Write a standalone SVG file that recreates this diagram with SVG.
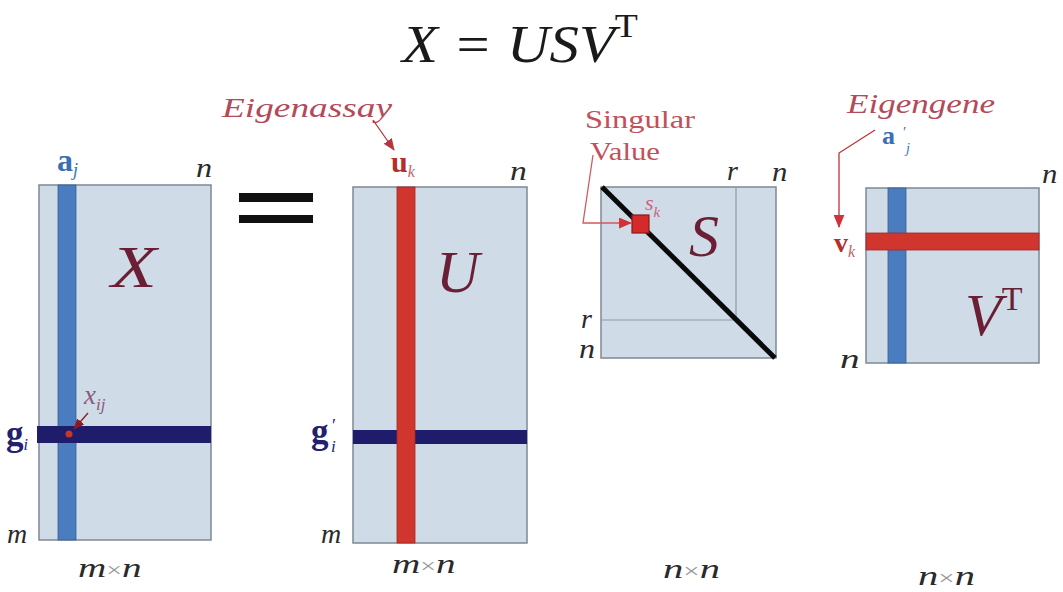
<svg xmlns="http://www.w3.org/2000/svg" width="1063" height="592" viewBox="0 0 1063 592" font-family="'Liberation Serif', 'DejaVu Serif', 'Times New Roman', serif">
<defs>
<style>
.it{font-style:italic}
.mat{fill:#cfdce8;stroke:#7d8893;stroke-width:1.5}
.big{font-size:60px;font-style:italic;fill:#6b1f35}
.dim{font-size:28px;font-style:italic;fill:#2a2a2a}
.times{font-style:normal;fill:#9a9a9a;font-size:20px}
.blue{fill:#4a7cc0;stroke:#3a5f90;stroke-width:0.8}
.red{fill:#d0362e;stroke:#a02822;stroke-width:0.8}
.navy{fill:#201c6c}
.note{font-size:28px;font-style:italic;fill:#b34a5a}
.conn{fill:none;stroke-width:1.3}
</style>
<marker id="ahA" viewBox="0 0 12 10" refX="11" refY="5" markerWidth="12" markerHeight="10" markerUnits="userSpaceOnUse" orient="auto"><path d="M0,0 L12,5 L0,10 z" fill="#b8363a"/></marker>
<marker id="ahS" viewBox="0 0 12 10" refX="11" refY="5" markerWidth="13" markerHeight="11" markerUnits="userSpaceOnUse" orient="auto"><path d="M0,0 L12,5 L0,10 z" fill="#d2303a"/></marker>
<marker id="ahX" viewBox="0 0 12 10" refX="11" refY="5" markerWidth="11" markerHeight="10" markerUnits="userSpaceOnUse" orient="auto"><path d="M0,0 L12,5 L0,10 z" fill="#8b1a22"/></marker>
</defs>
<rect width="1063" height="592" fill="#ffffff"/>

<g id="title">
<text transform="translate(402,62) scale(1.11,1)" font-size="53" class="it" fill="#1a1a1a">X = USV<tspan font-style="normal" font-size="34" dy="-25">T</tspan></text>
</g>

<g id="matrix-X">
<rect class="mat" x="39" y="185" width="172" height="355"/>
<rect class="blue" x="58" y="185" width="18" height="355"/>
<rect class="navy" x="37" y="426" width="174" height="17"/>
<circle cx="69" cy="434" r="3.5" fill="#c0392b"/>
<text class="big" transform="translate(111,287) scale(1.25,1)">X</text>
<text transform="translate(57,171)" font-size="32" font-weight="bold" fill="#3a6fb5">a<tspan class="it" font-weight="normal" font-size="18" dy="5">j</tspan></text>
<text class="dim" transform="translate(196,177) scale(1.15,1)">n</text>
<text transform="translate(84,404)" font-size="27" class="it" fill="#8b5a7a">x<tspan font-size="17" dy="6">ij</tspan></text>
<text transform="translate(6,445)" font-size="35" font-weight="bold" fill="#232070">g<tspan class="it" font-weight="normal" font-size="16" dy="5">i</tspan></text>
<text class="dim" transform="translate(7,543)" font-size="30">m</text>
<text class="dim" transform="translate(78,577) scale(1.4,1)">m<tspan class="times">×</tspan>n</text>
</g>

<g id="equals">
<rect x="239" y="193" width="74" height="9" fill="#111"/>
<rect x="239" y="215" width="74" height="8" fill="#111"/>
</g>

<g id="matrix-U">
<rect class="mat" x="353" y="187" width="174" height="356"/>
<rect class="navy" x="353" y="430" width="174" height="14"/>
<rect class="red" x="397" y="187" width="18" height="356"/>
<text class="big" transform="translate(436,292)" font-size="62">U</text>
<text transform="translate(391,172)" font-size="30" font-weight="bold" fill="#b52e2a">u<tspan class="it" font-weight="normal" font-size="16" dy="5" fill="#c0606a">k</tspan></text>
<text class="dim" transform="translate(510,180) scale(1.2,1)">n</text>
<text x="311" y="443" font-size="35" font-weight="bold" fill="#232070">g</text>
<text x="332" y="432" font-size="18" fill="#232070">′</text>
<text x="331" y="452" class="it" font-size="17" fill="#232070">i</text>
<text class="dim" transform="translate(321,543)" font-size="30">m</text>
<text class="dim" transform="translate(392,573) scale(1.4,1)">m<tspan class="times">×</tspan>n</text>
<text class="note" x="222" y="117" textLength="170" lengthAdjust="spacingAndGlyphs">Eigenassay</text>
</g>

<g id="matrix-S">
<rect class="mat" x="601" y="187" width="175" height="171"/>
<path d="M736,187 V320 H601" fill="none" stroke="#8d98a4" stroke-width="1.2"/>
<line x1="602" y1="187" x2="775" y2="358" stroke="#0a0a0a" stroke-width="5"/>
<rect x="632" y="215" width="17" height="18" fill="#d42a2a" stroke="#8a1a1a" stroke-width="1.2"/>
<text class="big" transform="translate(689,256)" font-size="62">S</text>
<text transform="translate(645,210)" font-size="22" class="it" fill="#d0607a">s<tspan font-size="15" dy="7">k</tspan></text>
<text class="dim" transform="translate(727,180)" font-size="24">r</text>
<text class="dim" transform="translate(772,181) scale(1.1,1)">n</text>
<text class="dim" transform="translate(581,328)" font-size="24">r</text>
<text class="dim" transform="translate(579,358) scale(1.15,1)">n</text>
<text class="dim" transform="translate(663,578) scale(1.45,1)">n<tspan class="times">×</tspan>n</text>
<text x="585" y="128" font-size="26" fill="#c2505a" textLength="110" lengthAdjust="spacingAndGlyphs">Singular</text>
<text x="590" y="160" font-size="26" fill="#c2505a" textLength="70" lengthAdjust="spacingAndGlyphs">Value</text>
</g>

<g id="matrix-VT">
<rect class="mat" x="866" y="188" width="173" height="175"/>
<rect class="blue" x="888" y="188" width="18" height="175"/>
<rect class="red" x="866" y="233" width="173" height="17"/>
<text class="big" transform="translate(965,335)">V<tspan font-style="normal" font-size="34" dy="-25">T</tspan></text>
<text x="882" y="144" font-size="26" font-weight="bold" fill="#3a6fb5">a</text>
<text x="903" y="137" font-size="15" fill="#3a6fb5">′</text>
<text x="906" y="153" class="it" font-size="14" fill="#3a6fb5">j</text>
<text transform="translate(834,252)" font-size="28" font-weight="bold" fill="#b52e2a">v<tspan class="it" font-weight="normal" font-size="16" dy="5" fill="#c0606a">k</tspan></text>
<text class="dim" transform="translate(1042,183) scale(1.1,1)">n</text>
<text class="dim" transform="translate(840,368) scale(1.4,1)">n</text>
<text class="dim" transform="translate(918,585) scale(1.45,1)">n<tspan class="times">×</tspan>n</text>
<text class="note" x="847" y="113" textLength="148" lengthAdjust="spacingAndGlyphs">Eigengene</text>
</g>

<g id="connectors">
<line class="conn" x1="373" y1="120" x2="394" y2="150" stroke="#b8363a" marker-end="url(#ahA)"/>
<polyline class="conn" points="593,155 583,223 631,223" stroke="#d05a60" marker-end="url(#ahS)"/>
<polyline class="conn" points="875,130 839,153 839,227" stroke="#c0303a" marker-end="url(#ahS)"/>
<line class="conn" x1="88" y1="413" x2="74" y2="429" stroke="#8b1a22" marker-end="url(#ahX)"/>
</g>
</svg>
